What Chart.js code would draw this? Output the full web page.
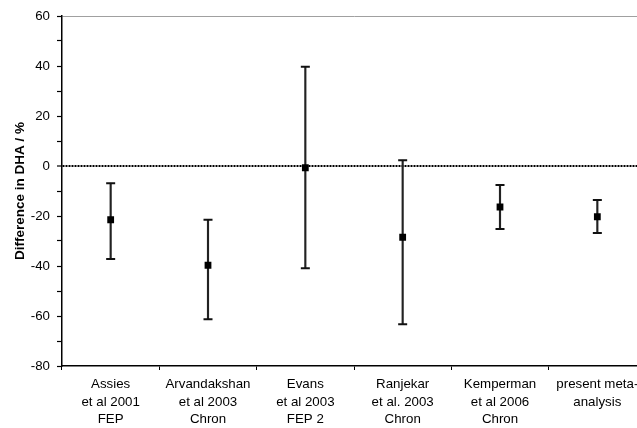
<!DOCTYPE html>
<html>
<head>
<meta charset="utf-8">
<script src="https://cdn.jsdelivr.net/npm/chart.js@4.4.0/dist/chart.umd.min.js"></script>
<style>
  html, body { margin: 0; padding: 0; overflow: hidden; background: #fff; width: 637px; height: 428px; }
  #wrap { width: 660px; height: 428px; }
</style>
</head>
<body>
<div id="wrap"><canvas id="c" width="660" height="428"></canvas></div>
<script>
// Studies (multi-line category labels)
const studies = [
  ["Assies", "et al 2001", "FEP"],
  ["Arvandakshan", "et al 2003", "Chron"],
  ["Evans", "et al 2003", "FEP 2"],
  ["Ranjekar", "et al. 2003", "Chron"],
  ["Kemperman", "et al 2006", "Chron"],
  ["present meta-", "analysis"]
];
// Difference in DHA (%) with confidence limits
const meanDiff = [-21.5, -39.7, -0.7, -28.5, -16.4, -20.3];
const upperCI  = [-6.9, -21.5, 39.7, 2.3, -7.6, -13.6];
const lowerCI  = [-37.2, -61.3, -40.9, -63.3, -25.2, -26.8];
// Value axis
const yMin = -80, yMax = 60, yStep = 10, yLabelEvery = 20;

const FONT = "'Liberation Sans', Arial, sans-serif";
const whiskers = lowerCI.map((lo, i) => [lo, upperCI[i]]);

new Chart(document.getElementById('c'), {
  data: {
    labels: studies,
    datasets: [
      {
        type: 'bar',
        data: whiskers,
        backgroundColor: '#222',
        borderWidth: 0,
        barThickness: 1.5,
        order: 3
      },
      {
        type: 'line',
        data: upperCI,
        showLine: false,
        pointStyle: 'line',
        pointRadius: 4.5,
        pointBorderWidth: 2,
        pointBorderColor: '#111',
        order: 2
      },
      {
        type: 'line',
        data: lowerCI,
        showLine: false,
        pointStyle: 'line',
        pointRadius: 4.5,
        pointBorderWidth: 2,
        pointBorderColor: '#111',
        order: 2
      },
      {
        type: 'line',
        data: meanDiff,
        showLine: false,
        pointStyle: 'rect',
        pointRadius: 4.8,
        pointBorderWidth: 0,
        pointBackgroundColor: '#000',
        order: 1
      }
    ]
  },
  options: {
    responsive: false,
    devicePixelRatio: 1,
    animation: false,
    layout: { padding: { top: 16, right: 14, bottom: 0, left: 0 } },
    plugins: { legend: { display: false }, tooltip: { enabled: false } },
    scales: {
      x: {
        type: 'category',
        offset: true,
        grid: {
          offset: true,
          drawOnChartArea: false,
          tickLength: 4,
          tickColor: '#000',
          tickWidth: 1
        },
        border: { color: '#000', width: 1.5 },
        ticks: {
          color: '#000',
          font: { family: FONT, size: 13.3, lineHeight: 1.31 },
          padding: 6,
          maxRotation: 0,
          autoSkip: false
        },
        afterFit: s => { s.height = 62; }
      },
      y: {
        min: yMin,
        max: yMax,
        grid: {
          drawOnChartArea: true,
          tickLength: 5,
          tickColor: '#000',
          tickWidth: 1.2,
          color: ctx => {
            if (!ctx.tick) return 'rgba(0,0,0,0)';
            if (ctx.tick.value === 0) return '#000';
            if (ctx.tick.value === yMax) return '#a0a0a0';
            return 'rgba(0,0,0,0)';
          },
          lineWidth: ctx => (ctx.tick && ctx.tick.value === 0) ? 2 : 1
        },
        border: {
          color: '#000',
          width: 1.5,
          dash: ctx => (ctx.tick && ctx.tick.value === 0) ? [2, 1] : []
        },
        ticks: {
          stepSize: yStep,
          color: '#000',
          padding: 7,
          font: { family: FONT, size: 13.3 },
          callback: v => (v % yLabelEvery === 0 ? v : '')
        },
        title: {
          display: true,
          text: 'Difference in DHA / %',
          color: '#000',
          font: { family: FONT, size: 13.5, weight: 'bold' },
          padding: { top: 12, bottom: 0 }
        },
        afterFit: s => { s.width = 62; }
      }
    }
  }
});
</script>
</body>
</html>
